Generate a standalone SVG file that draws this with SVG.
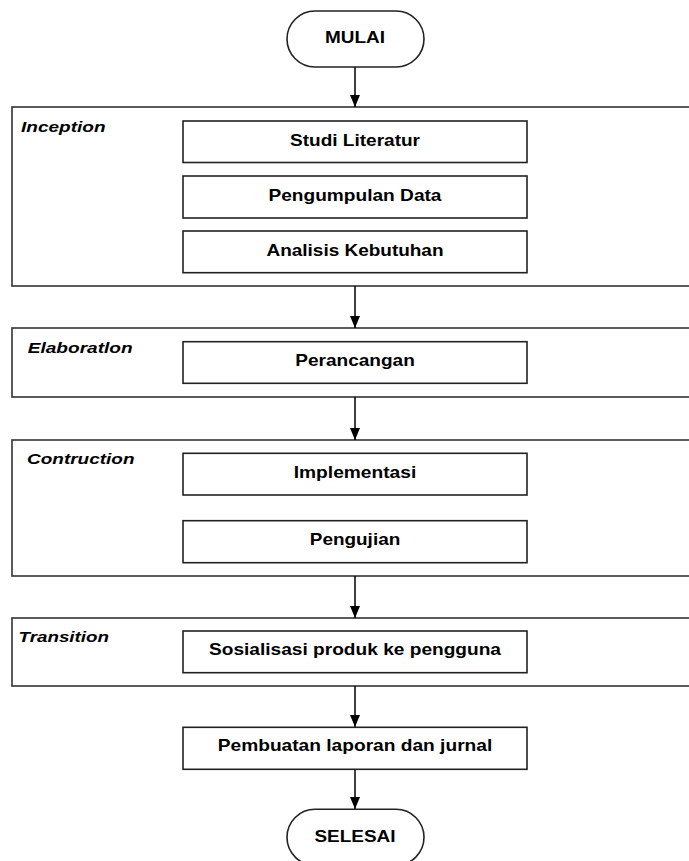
<svg xmlns="http://www.w3.org/2000/svg" width="689" height="861" viewBox="0 0 689 861">
<style>
.frame{fill:none;stroke:#333;stroke-width:1.6}
.box{fill:#fff;stroke:#222;stroke-width:1.6}
.term{fill:#fff;stroke:#222;stroke-width:1.6}
.t{font-family:"Liberation Sans",Arial,sans-serif;font-weight:bold;font-size:16.5px;fill:#000;text-anchor:middle}
.lbl{font-family:"Liberation Sans",Arial,sans-serif;font-weight:bold;font-style:italic;font-size:15.5px;fill:#000}
.con{stroke:#000;stroke-width:1.5;fill:none;marker-end:url(#ah)}
</style>
<defs>
<marker id="ah" viewBox="0 0 12 10" refX="12" refY="5" markerWidth="12" markerHeight="10" markerUnits="userSpaceOnUse" orient="auto">
<path d="M0,0 L12,5 L0,10 Z" fill="#000"/>
</marker>
</defs>
<rect width="689" height="861" fill="#fff"/>
<g id="phase-inception">
<rect class="frame" x="12" y="107" width="690" height="179"/>
<text class="lbl" x="21" y="131.5" textLength="84.5" lengthAdjust="spacingAndGlyphs">Inception</text>
</g>
<g id="phase-elaboration">
<rect class="frame" x="12" y="328" width="690" height="69"/>
<text class="lbl" x="27.7" y="352.5" textLength="105" lengthAdjust="spacingAndGlyphs">Elaboratlon</text>
</g>
<g id="phase-contruction">
<rect class="frame" x="12" y="440" width="690" height="136"/>
<text class="lbl" x="27" y="464.3" textLength="107.5" lengthAdjust="spacingAndGlyphs">Contruction</text>
</g>
<g id="phase-transition">
<rect class="frame" x="12" y="618" width="690" height="68"/>
<text class="lbl" x="18.5" y="641.7" textLength="90.5" lengthAdjust="spacingAndGlyphs">Transition</text>
</g>
<g id="connectors">
<line class="con" x1="355" y1="67" x2="355" y2="107"/>
<line class="con" x1="355" y1="286" x2="355" y2="328"/>
<line class="con" x1="355" y1="397" x2="355" y2="440"/>
<line class="con" x1="355" y1="576" x2="355" y2="618"/>
<line class="con" x1="355" y1="686" x2="355" y2="727"/>
<line class="con" x1="355" y1="769" x2="355" y2="809"/>
</g>
<g id="mulai">
<rect class="term" x="287" y="11" width="137" height="56" rx="28" ry="28"/>
<text class="t" x="355" y="43.3" textLength="60" lengthAdjust="spacingAndGlyphs">MULAI</text>
</g>
<g id="studi-literatur">
<rect class="box" x="183" y="121" width="344" height="41.5"/>
<text class="t" x="355" y="145.7" textLength="130" lengthAdjust="spacingAndGlyphs">Studi Literatur</text>
</g>
<g id="pengumpulan-data">
<rect class="box" x="183" y="176" width="344" height="42"/>
<text class="t" x="355" y="200.5" textLength="173" lengthAdjust="spacingAndGlyphs">Pengumpulan Data</text>
</g>
<g id="analisis-kebutuhan">
<rect class="box" x="183" y="231" width="344" height="41.7"/>
<text class="t" x="355" y="255.5" textLength="177" lengthAdjust="spacingAndGlyphs">Analisis Kebutuhan</text>
</g>
<g id="perancangan">
<rect class="box" x="183" y="341.7" width="344" height="41.6"/>
<text class="t" x="355" y="366" textLength="119.5" lengthAdjust="spacingAndGlyphs">Perancangan</text>
</g>
<g id="implementasi">
<rect class="box" x="183" y="453.3" width="344" height="41.7"/>
<text class="t" x="355" y="477.5" textLength="122.5" lengthAdjust="spacingAndGlyphs">Implementasi</text>
</g>
<g id="pengujian">
<rect class="box" x="183" y="520.7" width="344" height="42"/>
<text class="t" x="355" y="545" textLength="90.5" lengthAdjust="spacingAndGlyphs">Pengujian</text>
</g>
<g id="sosialisasi">
<rect class="box" x="183" y="631" width="344" height="41.7"/>
<text class="t" x="355" y="655" textLength="292" lengthAdjust="spacingAndGlyphs">Sosialisasi produk ke pengguna</text>
</g>
<g id="pembuatan-laporan">
<rect class="box" x="183" y="727.3" width="344" height="42"/>
<text class="t" x="355" y="751.3" textLength="274.5" lengthAdjust="spacingAndGlyphs">Pembuatan laporan dan jurnal</text>
</g>
<g id="selesai">
<rect class="term" x="287" y="809.3" width="137" height="56" rx="28" ry="28"/>
<text class="t" x="355" y="841.7" textLength="81" lengthAdjust="spacingAndGlyphs">SELESAI</text>
</g>
</svg>
